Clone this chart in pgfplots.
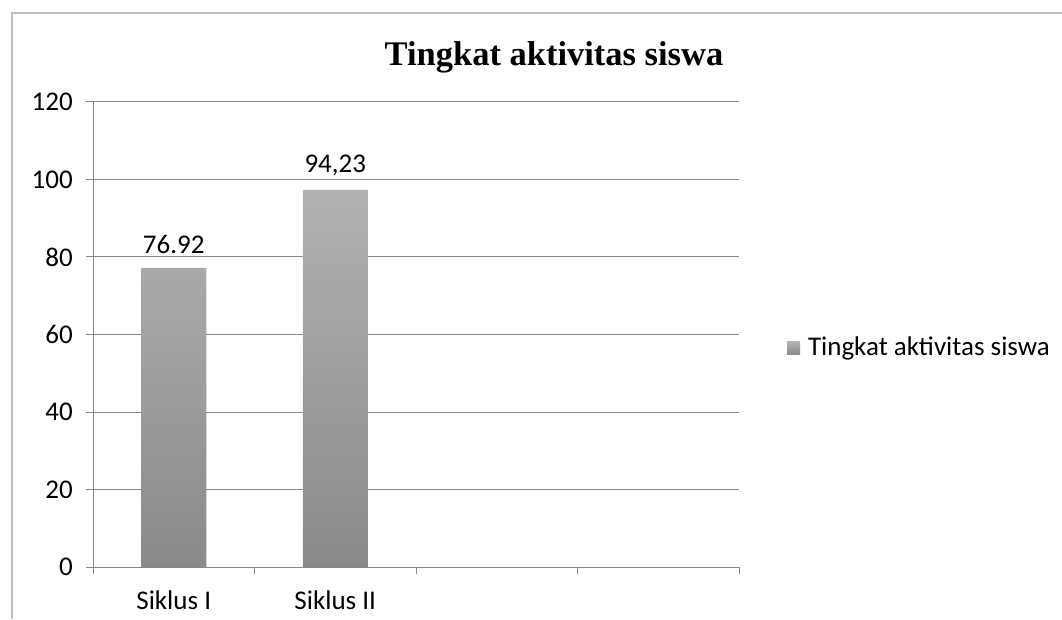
\documentclass[border=0pt]{standalone}
\usepackage{pgfplots}
\pgfplotsset{compat=1.18}
\usepackage{fontspec}
\setmainfont{Carlito}
\newfontfamily\titlefont{Liberation Serif}
\definecolor{gridc}{HTML}{878787}
\definecolor{framec}{HTML}{BFBFBF}
\definecolor{bartop}{HTML}{B2B2B2}
\definecolor{barbot}{HTML}{8A8A8A}
\begin{document}
\fontsize{27}{31}\selectfont
\begin{tikzpicture}[x=1pt,y=1pt]
\useasboundingbox (0,0) rectangle (1062,619);
\draw[framec, line width=1.2pt] (12,0) -- (12,606) -- (1062,606);
\node[font=\titlefont\bfseries\fontsize{34.5}{38}\selectfont] at (554,562) {Tingkat aktivitas siswa};
\begin{axis}[
  at={(93pt,52pt)}, anchor=south west,
  scale only axis, width=646pt, height=465pt,
  xmin=-0.5, xmax=3.5, ymin=0, ymax=120,
  ytick={0,20,...,120},
  xtick={0,1}, xticklabels={Siklus I,Siklus II},
  minor xtick={-0.5,0.5,1.5,2.5,3.5},
  major x tick style={draw=none},
  minor tick length=7pt, major tick length=7pt,
  tick align=outside,
  axis x line*=bottom, axis y line*=left,
  axis line style={gridc, line width=1pt, -},
  every tick/.style={gridc, line width=1pt},
  ymajorgrids, grid style={gridc, line width=1pt},
  tick label style={font=\fontsize{27}{31}\selectfont, text=black},
  /pgf/number format/assume math mode=true,
  yticklabel style={xshift=-4pt},
  xticklabel style={yshift=-8pt},
  ybar, bar width=65pt,
  nodes near coords,
  point meta=explicit symbolic,
  every node near coord/.append style={font=\fontsize{27}{31}\selectfont, text=black, yshift=5pt},
  legend style={at={(1.074,0.471)}, anchor=west, draw=none, fill=none,
    font=\fontsize{27}{31}\selectfont, inner sep=0pt,
    nodes={inner sep=0pt}},
  legend cell align=left,
  legend image code/.code={\path (0pt,0pt) -- (21pt,0pt);\path[#1, draw=none] (0pt,-6.5pt) rectangle (13pt,6.5pt);},
]
\addplot[draw=none, top color=bartop, bottom color=barbot] coordinates {(0,77.2) [76.92] (1,97.3) [94,23]};
\addlegendentry{Tingkat aktivitas siswa}
\end{axis}
\end{tikzpicture}
\end{document}
